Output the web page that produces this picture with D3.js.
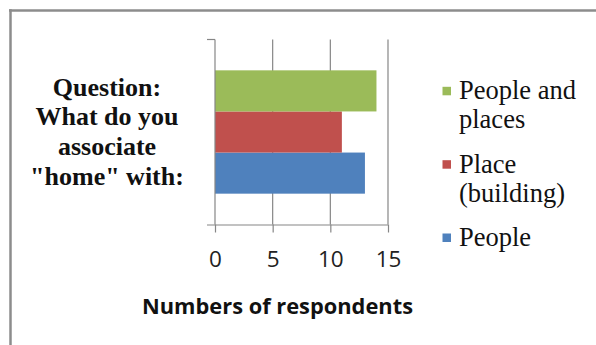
<!DOCTYPE html>
<html>
<head>
<meta charset="utf-8">
<script src="https://cdn.jsdelivr.net/npm/d3@7"></script>
<style>
  html, body { margin: 0; padding: 0; background: #fff; }
  svg { display: block; }
</style>
</head>
<body>
<svg id="chart" width="596" height="345"></svg>
<script>
// Survey answers: number of respondents per association of "home"
const seriesNames = ["People", "Place (building)", "People and places"];
const seriesValues = [13, 11, 14];
const seriesColors = ["#4F81BD", "#C0504D", "#9BBB59"];
const categories = ["home"];
const xTicks = [0, 5, 10, 15];
const questionLines = ["Question:", "What do you", "associate", "\"home\" with:"];
const legendLines = [["People and", "places"], ["Place", "(building)"], ["People"]];
const axisTitle = "Numbers of respondents";

const svg = d3.select("#chart");

// Frame lines (top and left edges of the chart area)
svg.append("line").attr("x1", 9).attr("x2", 596).attr("y1", 10.5).attr("y2", 10.5)
  .attr("stroke", "#8c8c8c").attr("stroke-width", 2.5);
svg.append("line").attr("x1", 10.5).attr("x2", 10.5).attr("y1", 9.3).attr("y2", 345)
  .attr("stroke", "#8c8c8c").attr("stroke-width", 2.5);

const plot = { left: 215, right: 388, top: 39.5, bottom: 224.5 };

const x = d3.scaleLinear().domain([0, 15]).range([plot.left, plot.right]);
const y = d3.scaleBand().domain(categories).range([plot.bottom, plot.top])
  .paddingInner(0).paddingOuter(0.25);
const ySeries = d3.scaleBand().domain(d3.range(seriesNames.length))
  .range([y.bandwidth(), 0]).padding(0);

const gridColor = "#868686";

// Vertical gridlines
svg.append("g").selectAll("line").data(xTicks.filter(t => t > 0)).join("line")
  .attr("x1", d => x(d)).attr("x2", d => x(d))
  .attr("y1", plot.top).attr("y2", plot.bottom)
  .attr("stroke", gridColor).attr("stroke-width", 1.2);

// Bars
const g = svg.append("g").attr("transform", `translate(0,${y("home")})`);
g.selectAll("rect").data(seriesValues).join("rect")
  .attr("x", x(0))
  .attr("y", (d, i) => ySeries(i))
  .attr("width", d => x(d) - x(0))
  .attr("height", ySeries.bandwidth())
  .attr("fill", (d, i) => seriesColors[i]);

// X axis with outward tick marks
const xAxis = d3.axisBottom(x).tickValues(xTicks).tickSize(8).tickPadding(8);
const xg = svg.append("g").attr("transform", `translate(0,${plot.bottom})`).call(xAxis);
xg.select(".domain").attr("d", `M${plot.left - 8},0.5H${plot.right}`)
  .attr("stroke", gridColor).attr("stroke-width", 1.2);
xg.selectAll(".tick line").attr("stroke", gridColor).attr("stroke-width", 1.2);
xg.selectAll(".tick text")
  .attr("font-family", "'Open Sans', Lato, sans-serif")
  .attr("font-size", 22.5).attr("fill", "#222").attr("y", 0)
  .attr("dy", 0).attr("transform", "translate(0,42.4)");

// Y axis line with tick marks at the top and bottom edges
const yAxisG = svg.append("g");
yAxisG.append("line").attr("x1", plot.left).attr("x2", plot.left)
  .attr("y1", plot.top).attr("y2", plot.bottom)
  .attr("stroke", gridColor).attr("stroke-width", 1.2);
yAxisG.append("line").attr("x1", plot.left - 8).attr("x2", plot.left)
  .attr("y1", plot.top).attr("y2", plot.top)
  .attr("stroke", gridColor).attr("stroke-width", 1.2);

// Axis title
svg.append("text")
  .attr("x", 277.5).attr("y", 314)
  .attr("text-anchor", "middle")
  .attr("font-family", "'Open Sans', Lato, sans-serif")
  .attr("font-weight", "bold").attr("font-size", 20.5).attr("fill", "#111")
  .attr("textLength", 271).attr("lengthAdjust", "spacingAndGlyphs")
  .text(axisTitle);

// Question text on the left
svg.append("g").selectAll("text").data(questionLines).join("text")
  .attr("x", 107).attr("y", (d, i) => 95.7 + i * 29.6)
  .attr("text-anchor", "middle")
  .attr("font-family", "'Liberation Serif', 'Times New Roman', serif")
  .attr("font-weight", "bold").attr("font-size", 26).attr("fill", "#111")
  .text(d => d);

// Legend (top-to-bottom order is the reverse of the series order)
const legendItems = d3.range(seriesNames.length).reverse();
const legendBase = [99.3, 172.7, 246];
const lg = svg.append("g");
legendItems.forEach((si, k) => {
  lg.append("rect")
    .attr("x", 442.5).attr("y", legendBase[k] - 12.5)
    .attr("width", 8.5).attr("height", 8.5)
    .attr("fill", seriesColors[si]);
  legendLines[k].forEach((line, j) => {
    lg.append("text")
      .attr("x", 459).attr("y", legendBase[k] + j * 29)
      .attr("font-family", "'Liberation Serif', 'Times New Roman', serif")
      .attr("font-size", 26.5).attr("fill", "#111")
      .text(line);
  });
});
</script>
</body>
</html>
